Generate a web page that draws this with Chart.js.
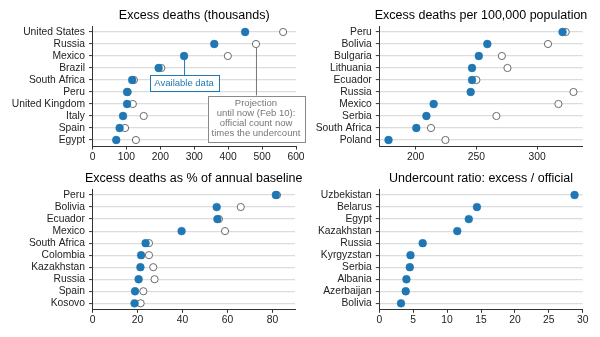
<!DOCTYPE html>
<html><head><meta charset="utf-8">
<script src="https://cdn.jsdelivr.net/npm/chart.js@4.4.0/dist/chart.umd.min.js"></script>
<style>
html,body{margin:0;padding:0;background:#fff;width:600px;height:337px;overflow:hidden;position:relative}
canvas{position:absolute}
</style></head><body>
<canvas id="c1" width="310" height="168" style="left:0;top:0;width:310px;height:168px"></canvas>
<canvas id="c2" width="300" height="168" style="left:300px;top:0;width:300px;height:168px"></canvas>
<canvas id="c3" width="310" height="169" style="left:0;top:168px;width:310px;height:169px"></canvas>
<canvas id="c4" width="300" height="169" style="left:300px;top:168px;width:300px;height:169px"></canvas>
<script>
// ---- Data ----
const title1 = 'Excess deaths (thousands)';
const cat1 = ['United States','Russia','Mexico','Brazil','South Africa','Peru','United Kingdom','Italy','Spain','Egypt'];
const avail1 = [450,359,270,195,117,102,102,90,80,70];
const proj1 = [562,482,399,203,122,104,119,151,96,128];
const xTicks1 = [0,100,200,300,400,500,600];

const title2 = 'Excess deaths per 100,000 population';
const cat2 = ['Peru','Bolivia','Bulgaria','Lithuania','Ecuador','Russia','Mexico','Serbia','South Africa','Poland'];
const avail2 = [321,259,252,246.4,246.4,245.3,214.8,208.8,200.5,177.6];
const proj2 = [323.6,309,271,275.6,250,330,317.6,266.5,212.6,224.5];
const xTicks2 = [200,250,300];

const title3 = 'Excess deaths as % of annual baseline';
const cat3 = ['Peru','Bolivia','Ecuador','Mexico','South Africa','Colombia','Kazakhstan','Russia','Spain','Kosovo'];
const avail3 = [81.5,55.2,55.5,39.6,23.6,21.6,21.3,20.5,18.9,18.7];
const proj3 = [82,65.9,56.2,58.9,25.1,25.1,27,27.6,22.6,21.4];
const xTicks3 = [0,20,40,60,80];

const title4 = 'Undercount ratio: excess / official';
const cat4 = ['Uzbekistan','Belarus','Egypt','Kazakhstan','Russia','Kyrgyzstan','Serbia','Albania','Azerbaijan','Bolivia'];
const ratio4 = [28.8,14.4,13.2,11.5,6.4,4.6,4.5,4.0,3.9,3.2];
const xTicks4 = [0,5,10,15,20,25,30];

const annotAvailable = {text:['Available data'], country:'Mexico', value:270, boxIndex:4.27};
const annotProjection = {text:['Projection','until now (Feb 10):','official count now','times the undercount'], country:'Russia', value:482, boxIndex:7.22};

// ---- Styling ----
const FONT = "'Liberation Sans', Arial, sans-serif";
const BLUE = '#1f77b4';
const AXC = '#333';

function pts(cats, vals){ return vals.map((v,i)=>({x:v, y:cats[i]})); }

function annotPlugin(list){
  return {
    id:'annots',
    afterDatasetsDraw(chart){
      const ctx = chart.ctx, xs = chart.scales.x, ys = chart.scales.y;
      list.forEach(a=>{
        const px = xs.getPixelForValue(a.value);
        const py = ys.getPixelForValue(ys.getLabels().indexOf(a.country));
        const cy = ys.getPixelForValue(a.boxIndex);
        ctx.save();
        ctx.font = '9.5px ' + FONT;
        const lh = a.text.length > 1 ? 10 : 11;
        let w = 0; a.text.forEach(t=>{ w = Math.max(w, ctx.measureText(t).width); });
        const bw = w + 2*a.padX, bh = a.text.length*lh + 2*a.padY;
        const bx = px - bw/2, by = cy - bh/2;
        ctx.strokeStyle = a.lineColor; ctx.lineWidth = 1;
        ctx.beginPath(); ctx.moveTo(px+0.5, py+4); ctx.lineTo(px+0.5, by); ctx.stroke();
        ctx.fillStyle = '#fff';
        ctx.fillRect(bx, by, bw, bh);
        ctx.strokeStyle = a.boxColor;
        ctx.strokeRect(Math.round(bx)+0.5, Math.round(by)+0.5, Math.round(bw), Math.round(bh));
        ctx.fillStyle = a.textColor; ctx.textAlign = 'center'; ctx.textBaseline = 'middle';
        a.text.forEach((t,i)=>{ ctx.fillText(t, px, by + a.padY + lh*(i+0.5)); });
        ctx.restore();
      });
    }
  };
}

function titlePlugin(text, ty){
  return {
    id:'axTitle',
    afterDraw(chart){
      const ctx = chart.ctx, ca = chart.chartArea;
      ctx.save();
      ctx.font = '12.5px ' + FONT;
      ctx.fillStyle = '#000'; ctx.textAlign = 'center'; ctx.textBaseline = 'middle';
      ctx.fillText(text, (ca.left + ca.right)/2, ty);
      ctx.restore();
    }
  };
}

function build(id, title, cats, series, xMin, xMax, xTicks, g, plugins){
  const datasets = series.map(s=>({
    data: pts(cats, s.vals),
    pointRadius: s.open ? 3.6 : 3.9,
    pointHoverRadius: s.open ? 3.6 : 3.9,
    backgroundColor: s.open ? '#fff' : BLUE,
    borderColor: s.open ? '#6b6b6b' : BLUE,
    pointBorderWidth: s.open ? 1 : 0.5,
    borderWidth: s.open ? 1 : 0.5,
    clip: false
  }));
  return new Chart(document.getElementById(id), {
    type:'scatter',
    data:{ labels: cats, datasets },
    options:{
      responsive:false, animation:false, devicePixelRatio:1,
      layout:{ padding:{ left:0, right:g.W - g.right, top:g.top, bottom:0 } },
      plugins:{ legend:{display:false}, tooltip:{enabled:false}, title:{display:false} },
      scales:{
        x:{ type:'linear', min:xMin, max:xMax,
          afterBuildTicks: s=>{ s.ticks = xTicks.map(v=>({value:v})); },
          afterFit: s=>{ s.height = g.xH; },
          grid:{ drawOnChartArea:false, tickLength:3.5, tickColor:AXC, tickWidth:1 },
          border:{ display:true, color:AXC, width:1 },
          ticks:{ color:'#222', padding:1, maxRotation:0, autoSkip:false, font:{family:FONT, size:10.3} }
        },
        y:{ type:'category', labels:cats, offset:true,
          afterFit: s=>{ s.width = g.left; },
          grid:{ offset:false, color:'#dcdcdc', lineWidth:1.2, tickLength:3.5, tickColor:AXC, tickWidth:1 },
          border:{ display:true, color:AXC, width:1 },
          ticks:{ color:'#222', padding:4, autoSkip:false, font:{family:FONT, size:10.3} }
        }
      }
    },
    plugins: [titlePlugin(title, g.tY)].concat(plugins || [])
  });
}

const gTop1 = {W:310, left:92.5, right:296, top:26, tY:16, xH:22};
const gTop2 = {W:300, left:79.3, right:282.7, top:26, tY:16, xH:22};
const gBot1 = {W:310, left:92.5, right:295, top:21, tY:11, xH:27.7};
const gBot2 = {W:300, left:79.3, right:282.7, top:21, tY:11, xH:27.7};

build('c1', title1, cat1, [{vals:avail1},{vals:proj1, open:true}], 0, 600, xTicks1, gTop1, [annotPlugin([
  Object.assign({padX:4.5, padY:2.5, lineColor:BLUE, boxColor:BLUE, textColor:BLUE}, annotAvailable),
  Object.assign({padX:4, padY:3, lineColor:'#777', boxColor:'#8a8a8a', textColor:'#777'}, annotProjection)
])]);
build('c2', title2, cat2, [{vals:avail2},{vals:proj2, open:true}], 170, 337.6, xTicks2, gTop2);
build('c3', title3, cat3, [{vals:avail3},{vals:proj3, open:true}], 0, 90, xTicks3, gBot1);
build('c4', title4, cat4, [{vals:ratio4}], 0, 30, xTicks4, gBot2);
</script>
</body></html>
